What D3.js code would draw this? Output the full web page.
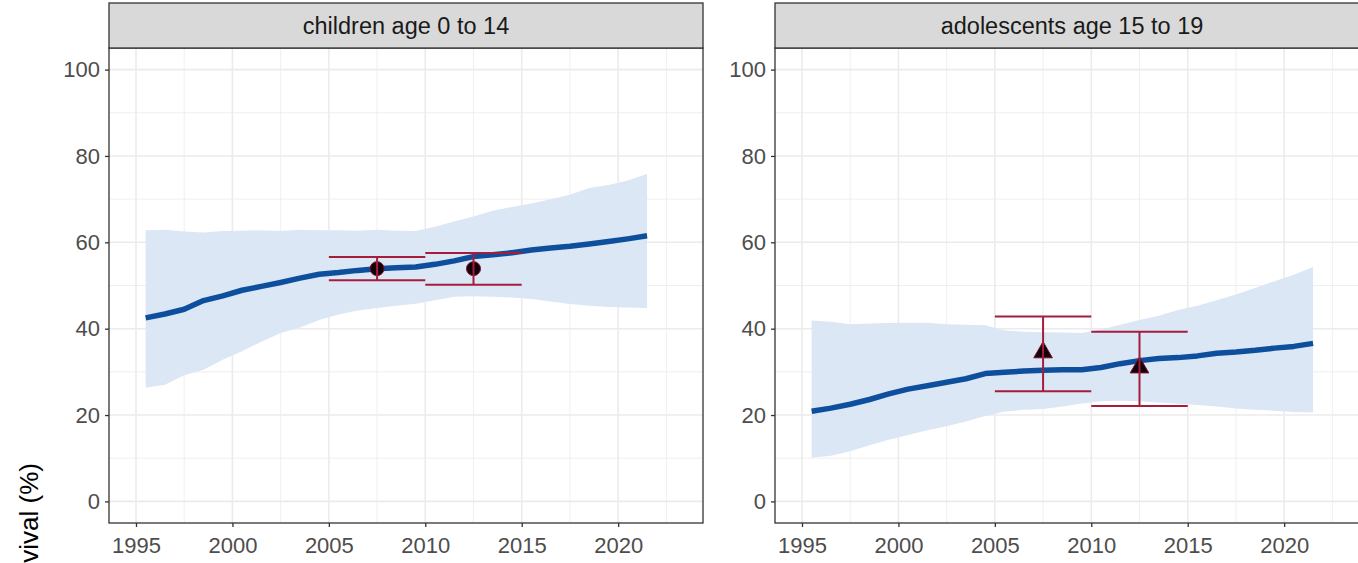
<!DOCTYPE html>
<html>
<head>
<meta charset="utf-8">
<script src="https://cdn.jsdelivr.net/npm/d3@7"></script>
<style>
  html, body { margin: 0; padding: 0; background: #fff; }
  svg { display: block; font-family: "Liberation Sans", Arial, Helvetica, sans-serif; }
</style>
</head>
<body>
<svg id="chart" width="1358" height="563"></svg>
<script>
// Modelled survival (%) by calendar year, with uncertainty band, and observed period estimates
const years = [1995.5, 1996.5, 1997.5, 1998.5, 1999.5, 2000.5, 2001.5, 2002.5, 2003.5, 2004.5,
               2005.5, 2006.5, 2007.5, 2008.5, 2009.5, 2010.5, 2011.5, 2012.5, 2013.5, 2014.5,
               2015.5, 2016.5, 2017.5, 2018.5, 2019.5, 2020.5, 2021.5];

const childrenFit   = [42.5, 43.4, 44.5, 46.5, 47.6, 48.9, 49.8, 50.7, 51.7, 52.6,
                       53.0, 53.5, 53.9, 54.1, 54.3, 54.9, 55.7, 56.7, 57.1, 57.6,
                       58.2, 58.7, 59.1, 59.6, 60.2, 60.8, 61.5];
const childrenUpper = [62.8, 62.9, 62.5, 62.3, 62.6, 62.7, 62.8, 62.6, 62.9, 62.8,
                       62.8, 62.7, 62.9, 62.7, 62.6, 63.6, 64.8, 66.0, 67.3, 68.2,
                       69.0, 70.0, 71.0, 72.6, 73.3, 74.3, 75.8];
const childrenLower = [26.3, 27.0, 29.2, 30.5, 32.8, 34.8, 37.0, 39.0, 40.3, 42.0,
                       43.3, 44.2, 44.8, 45.3, 45.8, 46.6, 47.4, 47.5, 47.4, 47.2,
                       46.9, 46.3, 45.7, 45.3, 45.0, 44.9, 44.8];

const adolFit   = [20.9, 21.6, 22.5, 23.6, 24.9, 26.0, 26.8, 27.6, 28.4, 29.6,
                   29.9, 30.2, 30.4, 30.5, 30.5, 31.0, 31.9, 32.6, 33.1, 33.3,
                   33.7, 34.3, 34.6, 35.0, 35.5, 35.9, 36.6];
const adolUpper = [41.9, 41.6, 41.0, 41.2, 41.3, 41.4, 41.4, 41.0, 40.9, 40.8,
                   39.6, 39.3, 39.2, 39.1, 39.0, 39.8, 40.9, 42.0, 43.0, 44.3,
                   45.3, 46.6, 47.9, 49.4, 51.0, 52.5, 54.3];
const adolLower = [10.1, 10.6, 11.6, 13.0, 14.3, 15.4, 16.5, 17.4, 18.5, 19.8,
                   20.8, 21.2, 21.4, 22.0, 22.7, 23.2, 23.3, 23.2, 22.9, 22.6,
                   22.3, 22.0, 21.5, 21.2, 21.0, 20.7, 20.6];

// Observed estimates per 5-year period
const periodStart = [2005, 2010];
const periodEnd   = [2010, 2015];
const periodMid   = [2007.5, 2012.5];
const childrenObs      = [53.9, 53.9];
const childrenObsLower = [51.2, 50.2];
const childrenObsUpper = [56.6, 57.5];
const adolObs      = [34.5, 31.0];
const adolObsLower = [25.5, 22.1];
const adolObsUpper = [42.8, 39.3];

const panelTitles = ["children age 0 to 14", "adolescents age 15 to 19"];
const xTicks = [1995, 2000, 2005, 2010, 2015, 2020];
const yTicks = [0, 20, 40, 60, 80, 100];
const yTitle = "Survival (%)";

const panels = [
  { title: panelTitles[0], fit: childrenFit, lower: childrenLower, upper: childrenUpper,
    obs: childrenObs, obsLo: childrenObsLower, obsHi: childrenObsUpper, shape: "circle", left: 109 },
  { title: panelTitles[1], fit: adolFit, lower: adolLower, upper: adolUpper,
    obs: adolObs, obsLo: adolObsLower, obsHi: adolObsUpper, shape: "triangle", left: 775 }
];

const svg = d3.select("#chart");
const panelW = 594, stripTop = 3, stripH = 45, plotTop = 48, plotBottom = 523;

const col = {
  band: "#dbe7f5", line: "#0e4f9d", err: "#a51d3d", grid: "#ebebeb",
  border: "#333333", strip: "#d9d9d9", tick: "#4d4d4d"
};

panels.forEach(p => {
  const x = d3.scaleLinear().domain([1993.6, 2024.4]).range([p.left, p.left + panelW]);
  const y = d3.scaleLinear().domain([-5, 105]).range([plotBottom, plotTop]);
  const g = svg.append("g");

  // panel background
  g.append("rect").attr("x", p.left).attr("y", plotTop).attr("width", panelW)
    .attr("height", plotBottom - plotTop).attr("fill", "#fff");

  // minor grid
  const xMinor = d3.range(1992.5, 2025, 5).filter(v => v > 1993.6 && v < 2024.4);
  const yMinor = [10, 30, 50, 70, 90];
  g.selectAll(".xminor").data(xMinor).join("line")
    .attr("x1", d => x(d)).attr("x2", d => x(d)).attr("y1", plotTop).attr("y2", plotBottom)
    .attr("stroke", col.grid).attr("stroke-width", 0.8);
  g.selectAll(".yminor").data(yMinor).join("line")
    .attr("x1", p.left).attr("x2", p.left + panelW).attr("y1", d => y(d)).attr("y2", d => y(d))
    .attr("stroke", col.grid).attr("stroke-width", 0.8);
  // major grid
  g.selectAll(".xmajor").data(xTicks).join("line")
    .attr("x1", d => x(d)).attr("x2", d => x(d)).attr("y1", plotTop).attr("y2", plotBottom)
    .attr("stroke", col.grid).attr("stroke-width", 1.6);
  g.selectAll(".ymajor").data(yTicks).join("line")
    .attr("x1", p.left).attr("x2", p.left + panelW).attr("y1", d => y(d)).attr("y2", d => y(d))
    .attr("stroke", col.grid).attr("stroke-width", 1.6);

  // uncertainty band
  const rows = years.map((yr, i) => ({ yr, fit: p.fit[i], lo: p.lower[i], hi: p.upper[i] }));
  g.append("path").datum(rows)
    .attr("d", d3.area().x(d => x(d.yr)).y0(d => y(d.lo)).y1(d => y(d.hi)))
    .attr("fill", col.band);

  // fitted trend
  g.append("path").datum(rows)
    .attr("d", d3.line().x(d => x(d.yr)).y(d => y(d.fit)))
    .attr("fill", "none").attr("stroke", col.line).attr("stroke-width", 5.5)
    .attr("stroke-linejoin", "round");

  // observed points
  const obs = periodMid.map((m, i) => ({ m, a: periodStart[i], b: periodEnd[i],
    v: p.obs[i], lo: p.obsLo[i], hi: p.obsHi[i] }));
  if (p.shape === "circle") {
    g.selectAll(".pt").data(obs).join("circle")
      .attr("cx", d => x(d.m)).attr("cy", d => y(d.v)).attr("r", 7)
      .attr("fill", "#12000a").attr("stroke", "#7a1228").attr("stroke-width", 1);
  } else {
    g.selectAll(".pt").data(obs).join("path")
      .attr("d", d3.symbol(d3.symbolTriangle, 150))
      .attr("transform", d => `translate(${x(d.m)},${y(d.v)})`)
      .attr("fill", "#12000a").attr("stroke", "#7a1228").attr("stroke-width", 1);
  }

  // error bars
  const eb = g.selectAll(".eb").data(obs).join("g").attr("stroke", col.err).attr("stroke-width", 2);
  eb.append("line").attr("x1", d => x(d.m)).attr("x2", d => x(d.m))
    .attr("y1", d => y(d.lo)).attr("y2", d => y(d.hi));
  eb.append("line").attr("x1", d => x(d.a)).attr("x2", d => x(d.b))
    .attr("y1", d => y(d.lo)).attr("y2", d => y(d.lo));
  eb.append("line").attr("x1", d => x(d.a)).attr("x2", d => x(d.b))
    .attr("y1", d => y(d.hi)).attr("y2", d => y(d.hi));

  // panel border
  g.append("rect").attr("x", p.left).attr("y", plotTop).attr("width", panelW)
    .attr("height", plotBottom - plotTop).attr("fill", "none")
    .attr("stroke", col.border).attr("stroke-width", 1.3);

  // strip
  g.append("rect").attr("x", p.left).attr("y", stripTop).attr("width", panelW).attr("height", stripH)
    .attr("fill", col.strip).attr("stroke", col.border).attr("stroke-width", 1.3);
  g.append("text").attr("x", p.left + panelW / 2).attr("y", stripTop + stripH / 2 + 8)
    .attr("text-anchor", "middle").attr("font-size", 23.5).attr("fill", "#1a1a1a").text(p.title);

  // axes
  const xAxis = g.append("g").attr("transform", `translate(0,${plotBottom})`)
    .call(d3.axisBottom(x).tickValues(xTicks).tickFormat(d3.format("d")).tickSize(4).tickPadding(10));
  const yAxis = g.append("g").attr("transform", `translate(${p.left},0)`)
    .call(d3.axisLeft(y).tickValues(yTicks).tickSize(4).tickPadding(5));
  [xAxis, yAxis].forEach(a => {
    a.select(".domain").remove();
    a.selectAll(".tick line").attr("stroke", col.border).attr("stroke-width", 1.3);
    a.selectAll(".tick text").attr("fill", col.tick).attr("font-size", 22)
      .attr("font-family", "Liberation Sans, Arial, sans-serif");
  });
});

// y axis title
svg.append("text")
  .attr("transform", "translate(38,463) rotate(-90)")
  .attr("text-anchor", "end").attr("font-size", 26).attr("fill", "#000")
  .text(yTitle);
</script>
</body>
</html>
